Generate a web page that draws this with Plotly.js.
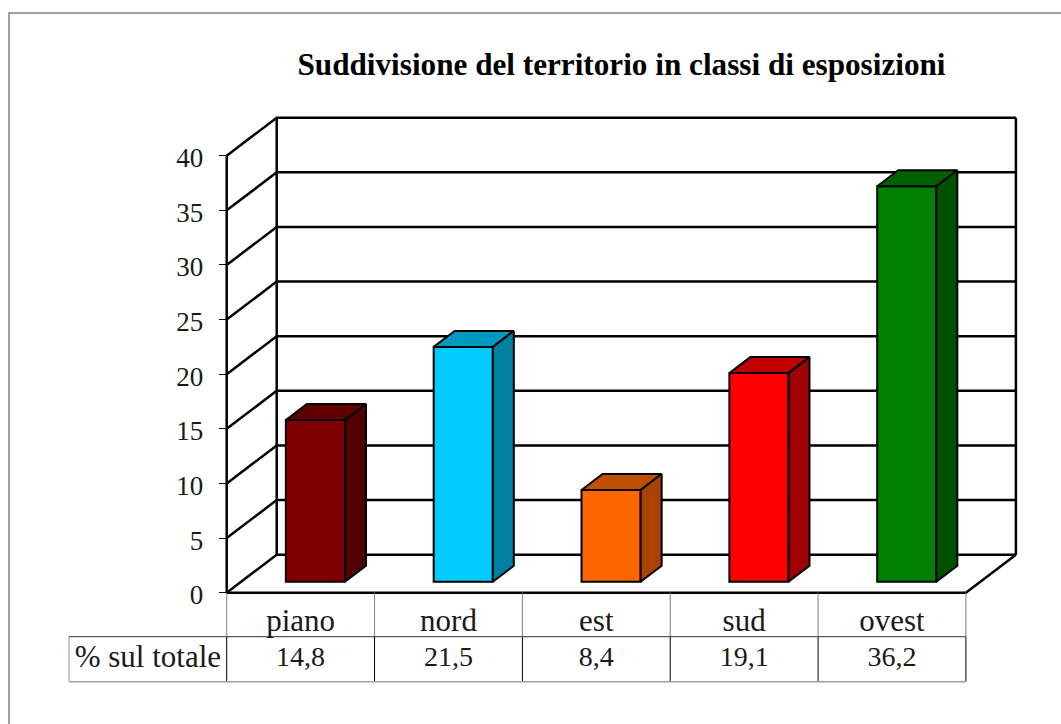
<!DOCTYPE html>
<html>
<head>
<meta charset="utf-8">
<script src="https://cdn.plot.ly/plotly-3.0.1.min.js"></script>
<style>html,body{margin:0;padding:0;background:#fff}#chart{width:1061px;height:724px}</style>
</head>
<body>
<div id="chart"></div>
<script>
var categories = ['piano', 'nord', 'est', 'sud', 'ovest'];
var percentValues = [14.8, 21.5, 8.4, 19.1, 36.2];
var yTicks = [0, 5, 10, 15, 20, 25, 30, 35, 40];
var frontColors = ['#7f0000', '#00ccff', '#ff6600', '#ff0000', '#008000'];
var topColors = ['#600000', '#0099c0', '#c05000', '#c00000', '#006000'];
var sideColors = ['#500000', '#0080a0', '#a84400', '#a00000', '#005000'];
var rowLabel = '% sul totale';
var chartTitle = 'Suddivisione del territorio in classi di esposizioni';

var FONT = '"Liberation Serif", serif';
var W = 1061, H = 724;
var originX = 226.7, originY = 592.7;          // pixel position of the axes' origin
var pxX = 147.84, pxY = 10.925;
var xRange = [-originX / pxX, (W - originX) / pxX];
var yRange = [-(H - originY) / pxY, originY / pxY];
var wallDx = 50 / pxX, wallDy = 38 / pxY;
var barDx = 21 / pxX, barDy = 16 / pxY;
var barWidth = 0.4, barCenter = 0.6, barBase = 1.0;
var nCat = categories.length;
var yMax = yTicks[yTicks.length - 1];
var rowMid = -44 / pxY, rowEnd = -89 / pxY, tableLeft = (69 - originX) / pxX;
var frameLeft = (9 - originX) / pxX, frameTop = (originY - 13) / pxY;

function lineTrace(xs, ys, color, width) {
  return {type: 'scatter', mode: 'lines', x: xs, y: ys, hoverinfo: 'skip',
    showlegend: false, line: {color: color, width: width}, xaxis: 'x', yaxis: 'y'};
}

// outer frame (only top and left edges are visible)
var traces = [lineTrace([frameLeft, frameLeft, xRange[1]], [yRange[0], frameTop, frameTop], '#808080', 1.5)];

// walls and gridlines
var gx = [], gy = [];
yTicks.forEach(function (t) {
  gx.push(0, wallDx, nCat + wallDx, null);
  gy.push(t, t + wallDy, t + wallDy, null);
});
gx.push(0, 0, null, wallDx, wallDx, null, nCat + wallDx, nCat + wallDx, null, 0, nCat, nCat + wallDx);
gy.push(0, yMax, null, wallDy, yMax + wallDy, null, wallDy, yMax + wallDy, null, 0, 0, wallDy);
traces.push(lineTrace(gx, gy, '#000000', 2.5));

// data table lines
var ux = [], uy = [], lx = [], ly = [];
for (var c = 0; c <= nCat; c++) {
  ux.push(c, c, null); uy.push(0, rowMid, null);
  lx.push(c, c, null); ly.push(rowMid, rowEnd, null);
}
traces.push(lineTrace(ux, uy, '#808080', 1));
traces.push(lineTrace(lx, ly, '#000000', 1));
traces.push(lineTrace([tableLeft, tableLeft], [rowMid, rowEnd], '#909090', 1));
traces.push(lineTrace([tableLeft, nCat], [rowMid, rowMid], '#333333', 1));
traces.push(lineTrace([tableLeft, nCat], [rowEnd, rowEnd], '#a0a0a0', 1.5));

// data table text
traces.push({type: 'scatter', mode: 'text', hoverinfo: 'skip', showlegend: false,
  x: categories.map(function (_, i) { return i + 0.5; }),
  y: categories.map(function () { return (rowMid + rowEnd) / 2; }),
  text: percentValues.map(function (v) { return v.toFixed(1).replace('.', ','); }),
  textposition: 'middle center',
  textfont: {family: FONT, size: 28, color: '#1a1a1a'}, xaxis: 'x', yaxis: 'y'});
traces.push({type: 'scatter', mode: 'text', hoverinfo: 'skip', showlegend: false,
  x: [(tableLeft + 0) / 2], y: [(rowMid + rowEnd) / 2], text: [rowLabel],
  textposition: 'middle center',
  textfont: {family: FONT, size: 31, color: '#1a1a1a'}, xaxis: 'x', yaxis: 'y'});

// bars: front faces
traces.push({type: 'bar', x: categories.map(function (_, i) { return i + barCenter; }),
  y: percentValues, base: categories.map(function () { return barBase; }),
  width: barWidth, hoverinfo: 'skip', showlegend: false,
  marker: {color: frontColors, line: {color: '#000000', width: 2}}, xaxis: 'x2', yaxis: 'y2'});

// bars: top and side faces
percentValues.forEach(function (v, i) {
  var x0 = i + barCenter - barWidth / 2, x1 = x0 + barWidth;
  var top = barBase + v;
  traces.push({type: 'scatter', mode: 'lines', fill: 'toself', fillcolor: topColors[i],
    x: [x0, x1, x1 + barDx, x0 + barDx, x0], y: [top, top, top + barDy, top + barDy, top],
    line: {color: '#000000', width: 2}, hoverinfo: 'skip', showlegend: false, xaxis: 'x2', yaxis: 'y2'});
  traces.push({type: 'scatter', mode: 'lines', fill: 'toself', fillcolor: sideColors[i],
    x: [x1, x1 + barDx, x1 + barDx, x1, x1], y: [barBase, barBase + barDy, top + barDy, top, barBase],
    line: {color: '#000000', width: 2}, hoverinfo: 'skip', showlegend: false, xaxis: 'x2', yaxis: 'y2'});
});

var layout = {
  width: W, height: H, margin: {l: 0, r: 0, t: 0, b: 0, pad: 0}, paper_bgcolor: '#ffffff', plot_bgcolor: 'rgba(0,0,0,0)',
  hovermode: false, showlegend: false, barmode: 'overlay',
  title: {text: '<b>' + chartTitle + '</b>', x: 621.5 / W, xanchor: 'center', y: 1 - 64.5 / H, yanchor: 'middle',
    font: {family: FONT, size: 31.2, color: '#000000'}},
  xaxis: {range: xRange, showgrid: false, zeroline: false, showline: false, tickmode: 'array',
    anchor: 'free', position: (H - originY) / H,
    tickvals: categories.map(function (_, i) { return i + 0.5; }), ticktext: categories,
    ticks: 'outside', ticklen: 0, tickcolor: 'rgba(0,0,0,0)',
    tickfont: {family: FONT, size: 31, color: '#1a1a1a'}},
  yaxis: {range: yRange, showgrid: false, zeroline: false, showline: false, tickmode: 'array',
    anchor: 'free', position: originX / W, ticklabelstandoff: 10, ticklabelshift: 2,
    tickvals: yTicks, ticktext: yTicks.map(String), ticks: 'outside', ticklen: 8, tickwidth: 1, tickcolor: '#000000',
    tickfont: {family: FONT, size: 27, color: '#1a1a1a'}},
  xaxis2: {range: xRange, overlaying: 'x', visible: false},
  yaxis2: {range: yRange, overlaying: 'y', visible: false}
};
Plotly.newPlot('chart', traces, layout, {displayModeBar: false, responsive: false});
</script>
</body>
</html>
